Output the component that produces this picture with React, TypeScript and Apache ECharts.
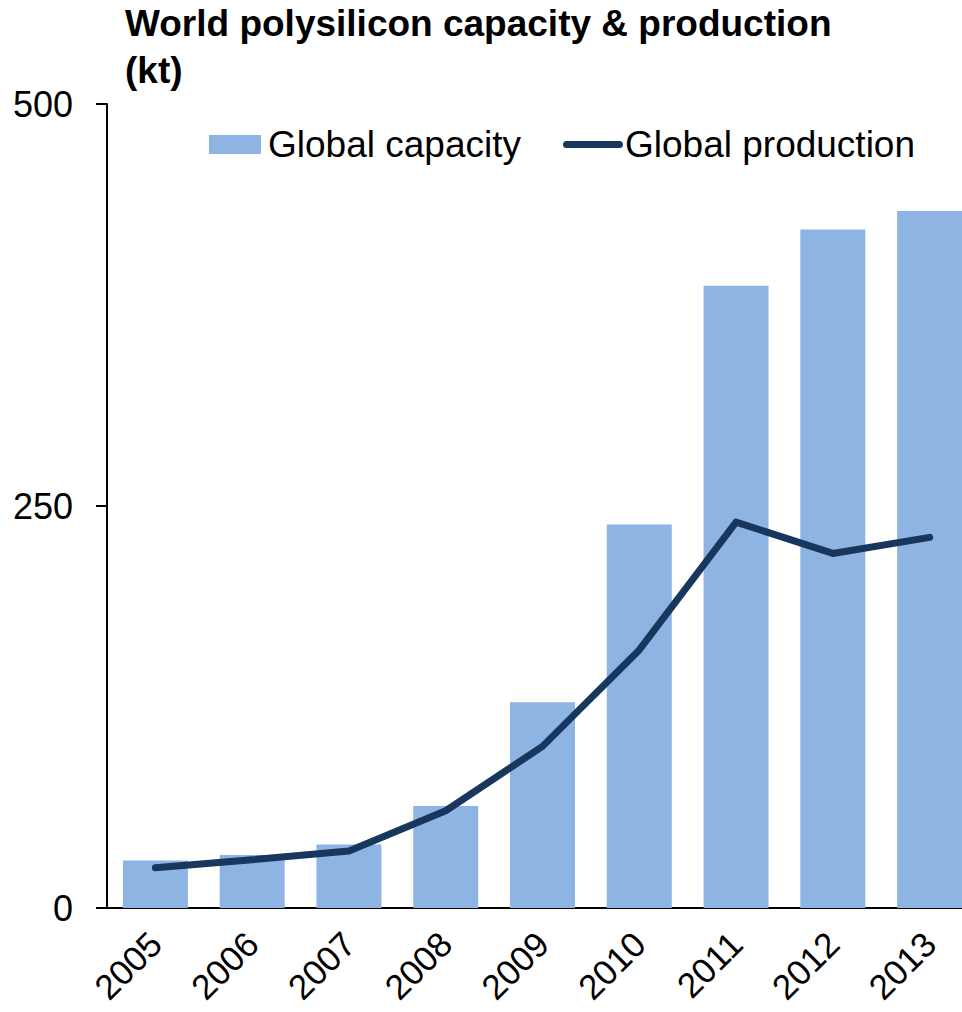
import React, { useEffect, useRef } from "react";
import * as echarts from "echarts";

const years = ["2005", "2006", "2007", "2008", "2009", "2010", "2011", "2012", "2013"];
const capacity = [29.5, 33, 39.5, 63.5, 128, 238.5, 387, 422, 433.5];
const production = [25, 30, 35.5, 60.5, 100.5, 160.5, 240, 220.5, 230.5];
const yTicks = { min: 0, max: 500, interval: 250 };

const FONT = "'Liberation Sans', Arial, Helvetica, sans-serif";

export default function App() {
  const ref = useRef<HTMLDivElement>(null);
  useEffect(() => {
    if (!ref.current) return;
    const chart = echarts.init(ref.current, undefined, { renderer: "svg" });
    chart.setOption({
      animation: false,
      backgroundColor: "#ffffff",
      title: {
        text: "World polysilicon capacity & production\n(kt)",
        left: 120,
        top: -5,
        textStyle: {
          fontFamily: FONT,
          fontWeight: "bold",
          fontSize: 37,
          lineHeight: 47,
          color: "#000",
        },
      },
      legend: [
        {
          data: [{ name: "Global capacity", icon: "rect" }],
          left: 209,
          top: 126,
          padding: 0,
          itemWidth: 52,
          itemHeight: 19,
          textStyle: { fontFamily: FONT, fontSize: 37, color: "#000", padding: [0, 0, 0, 2] },
        },
        {
          data: [
            {
              name: "Global production",
              icon: "path://M3.5,0 H56.5 A3.5,3.5 0 0 1 56.5,7 H3.5 A3.5,3.5 0 0 1 3.5,0 Z",
            },
          ],
          left: 563,
          top: 126,
          padding: 0,
          itemWidth: 60,
          itemHeight: 7,
          textStyle: { fontFamily: FONT, fontSize: 37, color: "#000", padding: [0, 0, 0, -3] },
        },
      ],
      grid: {
        left: 107,
        top: 104,
        width: 871,
        bottom: 104,
        containLabel: false,
        outerBoundsMode: "none",
      },
      xAxis: {
        type: "category",
        data: years,
        axisLine: { lineStyle: { color: "#000", width: 2 } },
        axisTick: { show: false },
        axisLabel: {
          rotate: 45,
          margin: 30,
          fontFamily: FONT,
          fontSize: 35,
          color: "#000",
          interval: 0,
        },
      },
      yAxis: {
        type: "value",
        min: yTicks.min,
        max: yTicks.max,
        interval: yTicks.interval,
        axisLine: { show: true, lineStyle: { color: "#000", width: 2 } },
        axisTick: { show: true, length: 11, lineStyle: { color: "#000", width: 2 } },
        splitLine: { show: false },
        axisLabel: { margin: 34, fontFamily: FONT, fontSize: 36, color: "#000" },
      },
      series: [
        {
          name: "Global capacity",
          type: "bar",
          data: capacity,
          barWidth: 65,
          itemStyle: { color: "#8EB4E3" },
        },
        {
          name: "Global production",
          type: "line",
          data: production,
          symbol: "none",
          itemStyle: { color: "#17375E" },
          lineStyle: { color: "#17375E", width: 7, cap: "round", join: "round" },
        },
      ],
    });
    return () => chart.dispose();
  }, []);
  return (
    <div
      ref={ref}
      style={{ position: "absolute", left: 0, top: 0, width: 962, height: 1012 }}
    />
  );
}
